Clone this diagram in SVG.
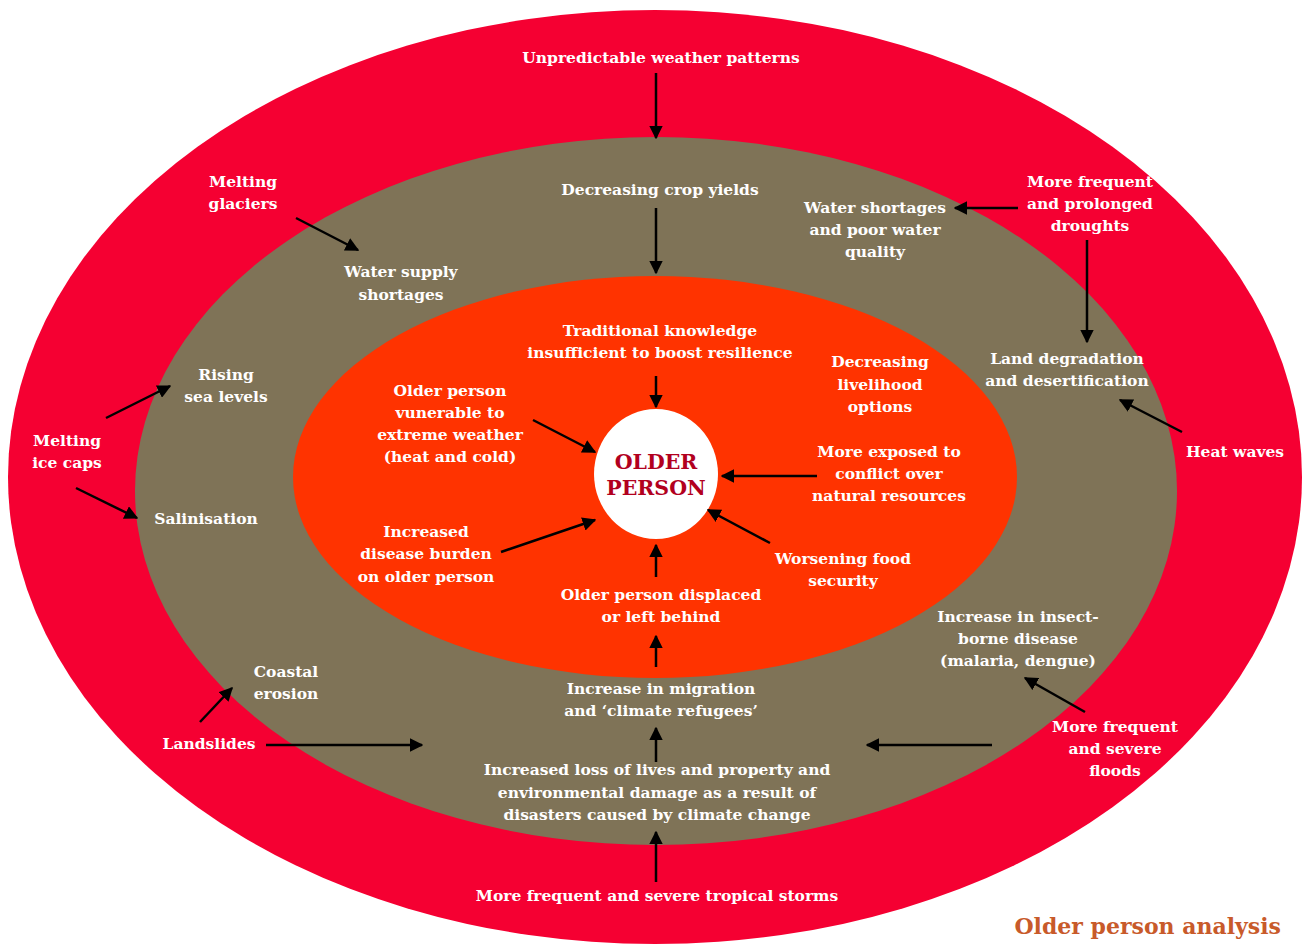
<svg xmlns="http://www.w3.org/2000/svg" width="1308" height="944" viewBox="0 0 1308 944">
<defs>
<marker id="ah" viewBox="0 0 10 10" refX="9" refY="5" markerWidth="5.5" markerHeight="5.5" markerUnits="strokeWidth" orient="auto">
<path d="M0,0 L10,5 L0,10 z" fill="#000"/>
</marker>
<style>
.t{font-family:"DejaVu Serif","Liberation Serif",serif;font-weight:bold;font-size:15.5px;fill:#fff;text-anchor:middle}
.c{font-family:"DejaVu Serif","Liberation Serif",serif;font-weight:bold;font-size:20.5px;fill:#B2001E;text-anchor:middle}
.ti{font-family:"DejaVu Serif","Liberation Serif",serif;font-weight:bold;font-size:22px;fill:#C85A2A;text-anchor:end}
.a{stroke:#000;stroke-width:2.5;fill:none;marker-end:url(#ah)}
</style>
</defs>
<rect width="1308" height="944" fill="#fff"/>
<g id="rings">
<ellipse id="outer" cx="655" cy="477" rx="647" ry="467" fill="#F50032"/>
<ellipse id="middle" cx="656" cy="491" rx="521" ry="354" fill="#7F7357"/>
<ellipse id="inner" cx="655" cy="477" rx="362" ry="201" fill="#FF3300"/>
</g>
<g id="center">
<ellipse cx="656" cy="474" rx="62" ry="65" fill="#fff"/>
<text class="c" x="656" y="469">OLDER</text>
<text class="c" x="656" y="495">PERSON</text>
</g>
<g id="connectors">
<line class="a" x1="656" y1="73" x2="656" y2="138"/>
<line class="a" x1="656" y1="208" x2="656" y2="273"/>
<line class="a" x1="656" y1="376" x2="656" y2="407"/>
<line class="a" x1="296" y1="218" x2="358" y2="250"/>
<line class="a" x1="1018" y1="208" x2="955" y2="208"/>
<line class="a" x1="1087" y1="240" x2="1087" y2="342"/>
<line class="a" x1="1182" y1="432" x2="1120" y2="400"/>
<line class="a" x1="106" y1="418" x2="170" y2="386"/>
<line class="a" x1="76" y1="488" x2="137" y2="518"/>
<line class="a" x1="533" y1="420" x2="595" y2="452"/>
<line class="a" x1="817" y1="476" x2="722" y2="476"/>
<line class="a" x1="501" y1="552" x2="595" y2="520"/>
<line class="a" x1="770" y1="543" x2="708" y2="510"/>
<line class="a" x1="656" y1="577" x2="656" y2="545"/>
<line class="a" x1="656" y1="667" x2="656" y2="636"/>
<line class="a" x1="656" y1="762" x2="656" y2="728"/>
<line class="a" x1="656" y1="882" x2="656" y2="832"/>
<line class="a" x1="200" y1="722" x2="232" y2="688"/>
<line class="a" x1="266" y1="745" x2="422" y2="745"/>
<line class="a" x1="992" y1="745" x2="867" y2="745"/>
<line class="a" x1="1085" y1="712" x2="1025" y2="678"/>
</g>
<g id="n-unpredictable"><text class="t" x="661" y="63">Unpredictable weather patterns</text></g>
<g id="n-glaciers"><text class="t" x="243" y="187">Melting</text><text class="t" x="243" y="209">glaciers</text></g>
<g id="n-crop"><text class="t" x="660" y="195">Decreasing crop yields</text></g>
<g id="n-watershort"><text class="t" x="875" y="213">Water shortages</text><text class="t" x="875" y="235">and poor water</text><text class="t" x="875" y="257">quality</text></g>
<g id="n-droughts"><text class="t" x="1090" y="187">More frequent</text><text class="t" x="1090" y="209">and prolonged</text><text class="t" x="1090" y="231">droughts</text></g>
<g id="n-watersupply"><text class="t" x="401" y="277">Water supply</text><text class="t" x="401" y="300">shortages</text></g>
<g id="n-traditional"><text class="t" x="660" y="336">Traditional knowledge</text><text class="t" x="660" y="358">insufficient to boost resilience</text></g>
<g id="n-livelihood"><text class="t" x="880" y="367">Decreasing</text><text class="t" x="880" y="390">livelihood</text><text class="t" x="880" y="412">options</text></g>
<g id="n-land"><text class="t" x="1067" y="364">Land degradation</text><text class="t" x="1067" y="386">and desertification</text></g>
<g id="n-sea"><text class="t" x="226" y="380">Rising</text><text class="t" x="226" y="402">sea levels</text></g>
<g id="n-vulnerable"><text class="t" x="450" y="396">Older person</text><text class="t" x="450" y="418">vunerable to</text><text class="t" x="450" y="440">extreme weather</text><text class="t" x="450" y="462">(heat and cold)</text></g>
<g id="n-icecaps"><text class="t" x="67" y="446">Melting</text><text class="t" x="67" y="468">ice caps</text></g>
<g id="n-heat"><text class="t" x="1235" y="457">Heat waves</text></g>
<g id="n-conflict"><text class="t" x="889" y="457">More exposed to</text><text class="t" x="889" y="479">conflict over</text><text class="t" x="889" y="501">natural resources</text></g>
<g id="n-salin"><text class="t" x="206" y="524">Salinisation</text></g>
<g id="n-disease"><text class="t" x="426" y="537">Increased</text><text class="t" x="426" y="559">disease burden</text><text class="t" x="426" y="582">on older person</text></g>
<g id="n-food"><text class="t" x="843" y="564">Worsening food</text><text class="t" x="843" y="586">security</text></g>
<g id="n-displaced"><text class="t" x="661" y="600">Older person displaced</text><text class="t" x="661" y="622">or left behind</text></g>
<g id="n-insect"><text class="t" x="1018" y="622">Increase in insect-</text><text class="t" x="1018" y="644">borne disease</text><text class="t" x="1018" y="666">(malaria, dengue)</text></g>
<g id="n-coastal"><text class="t" x="286" y="677">Coastal</text><text class="t" x="286" y="699">erosion</text></g>
<g id="n-migration"><text class="t" x="661" y="694">Increase in migration</text><text class="t" x="661" y="716">and ‘climate refugees’</text></g>
<g id="n-floods"><text class="t" x="1115" y="732">More frequent</text><text class="t" x="1115" y="754">and severe</text><text class="t" x="1115" y="776">floods</text></g>
<g id="n-landslides"><text class="t" x="209" y="749">Landslides</text></g>
<g id="n-loss"><text class="t" x="657" y="775">Increased loss of lives and property and</text><text class="t" x="657" y="798">environmental damage as a result of</text><text class="t" x="657" y="820">disasters caused by climate change</text></g>
<g id="n-storms"><text class="t" x="657" y="901">More frequent and severe tropical storms</text></g>
<g id="title"><text class="ti" x="1281" y="934">Older person analysis</text></g>
</svg>
